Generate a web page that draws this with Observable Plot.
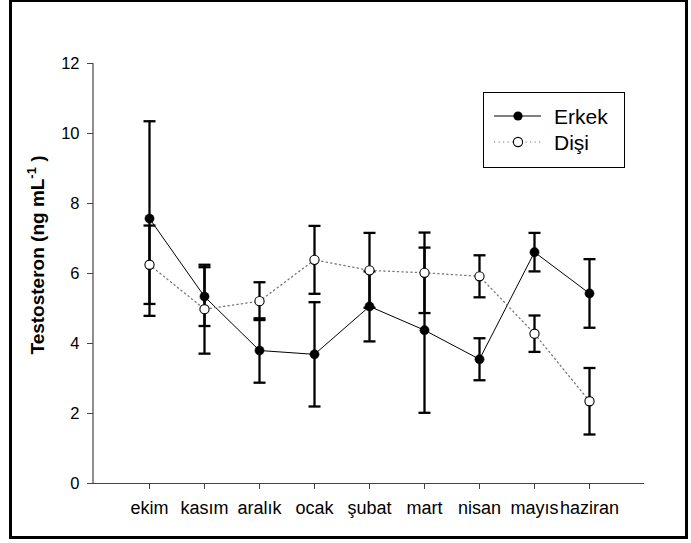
<!DOCTYPE html>
<html>
<head>
<meta charset="utf-8">
<script src="https://cdn.jsdelivr.net/npm/d3@7"></script>
<script src="https://cdn.jsdelivr.net/npm/@observablehq/plot@0.6"></script>
<style>
  body { margin: 0; background: #fff; }
  #wrap { position: relative; width: 691px; height: 543px; background: #fff; }
  #frame { position: absolute; left: 9px; top: -1px; width: 679px; height: 540px;
           border: 3px solid #000; box-sizing: border-box; pointer-events: none; }
</style>
</head>
<body>
<div id="wrap"><div id="frame"></div></div>
<script>
const months = ["ekim", "kasım", "aralık", "ocak", "şubat", "mart", "nisan", "mayıs", "haziran"];
const erkekMean = [7.57, 5.34, 3.80, 3.69, 5.06, 4.38, 3.55, 6.61, 5.43];
const erkekErr  = [2.78, 0.84, 0.92, 1.49, 1.00, 2.36, 0.60, 0.55, 0.98];
const disiMean  = [6.25, 4.98, 5.21, 6.39, 6.09, 6.02, 5.92, 4.28, 2.35];
const disiErr   = [1.12, 1.27, 0.54, 0.97, 1.07, 1.15, 0.60, 0.52, 0.95];
const yTicks = [0, 2, 4, 6, 8, 10, 12];
const seriesNames = ["Erkek", "Dişi"];
const yLabelMain = "Testosteron (ng mL";
const yLabelSup = "-1";

const erkek = months.map((m, i) => ({month: m, mean: erkekMean[i], lo: erkekMean[i] - erkekErr[i], hi: erkekMean[i] + erkekErr[i]}));
const disi  = months.map((m, i) => ({month: m, mean: disiMean[i],  lo: disiMean[i] - disiErr[i],  hi: disiMean[i] + disiErr[i]}));

const capSymbol = { draw(ctx) { ctx.moveTo(-6, 0); ctx.lineTo(6, 0); } };
const font = "'Liberation Sans', Arial, Helvetica, sans-serif";

function extras(index, scales, values, dim) {
  const g = d3.create("svg:g");
  const x0 = dim.marginLeft, y0 = dim.height - dim.marginBottom;
  // left axis line
  g.append("line").attr("x1", x0).attr("x2", x0).attr("y1", dim.marginTop).attr("y2", y0)
    .attr("stroke", "#444").attr("stroke-width", 1.2);
  // y label
  const t = g.append("text").attr("transform", `translate(44,255) rotate(-90)`)
    .attr("text-anchor", "middle").style("font-family", font).style("font-weight", "bold")
    .style("font-size", "19px").attr("fill", "#000");
  t.append("tspan").text(yLabelMain);
  t.append("tspan").style("font-size", "13px").attr("dy", -8).text(yLabelSup);
  t.append("tspan").attr("dy", 8).text(" )");
  // legend
  const L = g.append("g").style("font-family", font).style("font-size", "21px")
    .attr("text-anchor", "start").attr("fill", "#000");
  L.append("rect").attr("x", 483.5).attr("y", 92.5).attr("width", 141).attr("height", 75)
    .attr("fill", "#fff").attr("stroke", "#000").attr("stroke-width", 1);
  L.append("line").attr("x1", 494).attr("x2", 541).attr("y1", 116).attr("y2", 116)
    .attr("stroke", "#000").attr("stroke-width", 1);
  L.append("circle").attr("cx", 518).attr("cy", 116).attr("r", 4.6).attr("fill", "#000");
  L.append("text").attr("x", 554).attr("y", 123.5).attr("text-anchor", "start").text(seriesNames[0]);
  L.append("line").attr("x1", 494).attr("x2", 541).attr("y1", 142).attr("y2", 142)
    .attr("stroke", "#777").attr("stroke-width", 1.2).attr("stroke-dasharray", "1.2,3.3");
  L.append("circle").attr("cx", 518).attr("cy", 142).attr("r", 4.6).attr("fill", "#fff")
    .attr("stroke", "#000").attr("stroke-width", 1.1);
  L.append("text").attr("x", 554).attr("y", 149.5).attr("text-anchor", "start").text(seriesNames[1]);
  return g.node();
}

const errMarks = (d) => [
  Plot.ruleX(d, {x: "month", y1: "lo", y2: "hi", stroke: "#000", strokeWidth: 2.3}),
  Plot.dot(d, {x: "month", y: "lo", symbol: capSymbol, r: 6, stroke: "#000", fill: "none", strokeWidth: 2.3}),
  Plot.dot(d, {x: "month", y: "hi", symbol: capSymbol, r: 6, stroke: "#000", fill: "none", strokeWidth: 2.3})
];

const chart = Plot.plot({
  width: 691, height: 543,
  marginLeft: 93, marginRight: 47, marginTop: 63, marginBottom: 60,
  style: {fontFamily: font, fontSize: "16px", color: "#000", background: "transparent"},
  x: {type: "point", domain: months, padding: 1, label: null},
  y: {domain: [0, 12], label: null},
  marks: [
    Plot.axisX({tickSize: 6, tickPadding: 12, stroke: "#444", fill: "#000", fontSize: 18, label: null}),
    Plot.axisY({ticks: yTicks, tickSize: 6, tickPadding: 8, stroke: "#444", fill: "#000", fontSize: 16.5, label: null}),
    Plot.ruleY([0], {stroke: "#444", strokeWidth: 1.2}),
    ...errMarks(erkek),
    ...errMarks(disi),
    Plot.line(erkek, {x: "month", y: "mean", stroke: "#000", strokeWidth: 1}),
    Plot.line(disi, {x: "month", y: "mean", stroke: "#777", strokeWidth: 1.3, strokeDasharray: "1.2,3.3"}),
    Plot.dot(erkek, {x: "month", y: "mean", r: 4.6, fill: "#000", stroke: "#000", strokeWidth: 0.5}),
    Plot.dot(disi, {x: "month", y: "mean", r: 4.6, fill: "#fff", stroke: "#000", strokeWidth: 1.1}),
    extras
  ]
});
document.getElementById("wrap").prepend(chart);
</script>
</body>
</html>
